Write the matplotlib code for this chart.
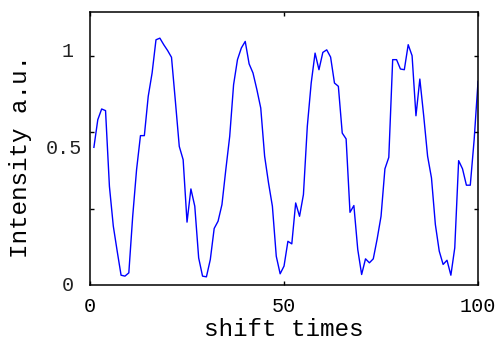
import matplotlib
matplotlib.use('Agg')
import matplotlib.pyplot as plt
import numpy as np

plt.rcParams['font.family'] = ['Liberation Mono', 'DejaVu Sans Mono']

# shift index and measured intensity
shift = np.arange(1, 101)
intensity = [0.591, 0.709, 0.755, 0.748, 0.424, 0.254, 0.147, 0.044, 0.040, 0.054,
             0.296, 0.496, 0.641, 0.641, 0.809, 0.909, 1.051, 1.058, 1.030, 1.005,
             0.976, 0.788, 0.595, 0.538, 0.271, 0.413, 0.339, 0.118, 0.040, 0.037,
             0.111, 0.244, 0.275, 0.346, 0.496, 0.638, 0.859, 0.966, 1.016, 1.044,
             0.948, 0.909, 0.838, 0.759, 0.553, 0.439, 0.339, 0.125, 0.050, 0.083,
             0.189, 0.178, 0.353, 0.296, 0.389, 0.681, 0.866, 0.994, 0.923, 0.997,
             1.008, 0.977, 0.866, 0.852, 0.652, 0.627, 0.313, 0.342, 0.154, 0.047,
             0.114, 0.097, 0.114, 0.199, 0.296, 0.499, 0.548, 0.966, 0.966, 0.926,
             0.923, 1.030, 0.983, 0.726, 0.883, 0.725, 0.553, 0.460, 0.261, 0.147,
             0.090, 0.108, 0.044, 0.161, 0.534, 0.499, 0.429, 0.429, 0.624, 0.873]

x_ticks = [0, 50, 100]
x_ticklabels = ['0', '50', '100']
y_tick_marks = [0.329, 0.655, 0.980]
y_label_pos = [0.0, 0.585, 1.0]
y_label_text = ['0', '0.5', '1']

fig = plt.figure(figsize=(4.99, 3.41), dpi=100)
ax = fig.add_axes([0.1804, 0.1628, 0.7776, 0.8028])
ax.plot(shift, intensity, color='#0000ff', lw=1.0)

ax.set_xlim(0, 100)
ax.set_ylim(0, 1.171)
ax.set_xticks(x_ticks)
ax.set_xticklabels(x_ticklabels, fontsize=14.5)
ax.set_yticks(y_tick_marks)
ax.tick_params(axis='both', direction='in', length=3, width=1,
               top=True, right=True, labelleft=False)
ax.tick_params(axis='x', pad=8)
for sp in ax.spines.values():
    sp.set_linewidth(1.1)

trans = ax.get_yaxis_transform()
for val, txt, xoff in zip(y_label_pos, y_label_text, [-0.041, -0.021, -0.041]):
    ax.text(xoff, val, txt, transform=trans, ha='right', va='center',
            fontsize=14.5, color='#222222')

ax.set_xlabel('shift times', fontsize=17.5, labelpad=2)
ax.set_ylabel('Intensity a.u.', fontsize=17.5)
ax.yaxis.set_label_coords(-0.149, 0.472)

fig.savefig('out.png', dpi=100)
